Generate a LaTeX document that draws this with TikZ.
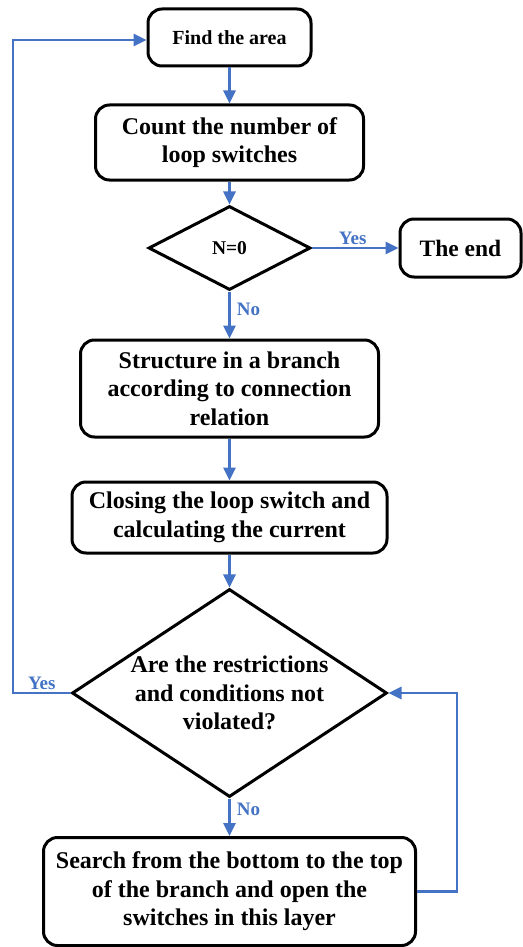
\documentclass[tikz,border=0pt]{standalone}
\usepackage{fontspec}
\setmainfont{Liberation Serif}
\usetikzlibrary{shapes.geometric,arrows.meta}
\definecolor{flowblue}{RGB}{68,114,196}
\begin{document}
\begin{tikzpicture}[x=1pt,y=-1pt,
  procbox/.style={draw=black, line width=3pt, rounded corners=14pt, fill=white,
    inner sep=0pt, align=center, font=\bfseries\fontsize{24}{28.5}\selectfont},
  decision/.style={draw=black, line width=3pt, diamond, inner sep=0pt, aspect=1},
  dtext/.style={align=center, inner sep=0pt, font=\bfseries\fontsize{24}{28.5}\selectfont},
  flow/.style={draw=flowblue, line width=2.8pt,
    -{Triangle[length=13pt,width=12pt]}},
  flowlabel/.style={text=flowblue, inner sep=2pt, font=\bfseries\fontsize{19}{22}\selectfont}
]
\useasboundingbox (0,0) rectangle (522,947);

% process boxes
\node[procbox, minimum width=163pt, minimum height=57pt,
  font=\bfseries\fontsize{20}{24}\selectfont] (find) at (229.5,37.5) {Find the area};
\node[procbox, minimum width=268pt, minimum height=75pt] (count) at (229.5,142.5)
  {Count the number of\\loop switches};
\node[procbox, minimum width=121pt, minimum height=58pt,
  font=\bfseries\fontsize{23.5}{28}\selectfont] (end) at (460.5,248) {The end};
\node[procbox, minimum width=298pt, minimum height=97pt] (struct) at (229.5,388.5)
  {Structure in a branch\\according to connection\\relation};
\node[procbox, minimum width=315pt, minimum height=71pt] (close) at (229.5,517.5)
  {Closing the loop switch and\\calculating the current};
\node[procbox, minimum width=372pt, minimum height=108pt] (search) at (229.5,891.5)
  {Search from the bottom to the top\\of the branch and open the\\switches in this layer};

% decisions
\node[decision, minimum width=162pt, minimum height=84pt] (q1) at (229.5,248) {};
\node[dtext, font=\bfseries\fontsize{19.5}{23}\selectfont] (q1t) at (q1) {N=0};
\node[decision, minimum width=315pt, minimum height=208pt] (q2) at (229.5,693) {};
\node[dtext] (q2t) at (q2) {Are the restrictions\\and conditions not\\violated?};

% loop-back corners
\coordinate (lp) at (13,40);
\coordinate (rp) at (457,693);

% connectors
\draw[flow] (find) -- (count);
\draw[flow] (count) -- (q1);
\draw[flow] (q1.east) -- node[flowlabel, above, pos=0.47] (yes1) {Yes} (q1.east -| end.west);
\draw[flow] (q1.south) -- node[flowlabel, right, pos=0.38, xshift=4pt] (no1) {No} (struct.north);
\draw[flow] (struct) -- (close);
\draw[flow] (close) -- (q2);
\draw[flow] (q2.south) -- node[flowlabel, right, pos=0.3, xshift=4pt] (no2) {No} (search.north);
\draw[flow] (q2.west) -- node[flowlabel, above, pos=0.5] (yes2) {Yes} (q2.west -| lp)
  -- (lp) -- (lp -| find.west);
\draw[flow] (search.east) -| (rp) -- (q2.east);
\end{tikzpicture}
\end{document}
